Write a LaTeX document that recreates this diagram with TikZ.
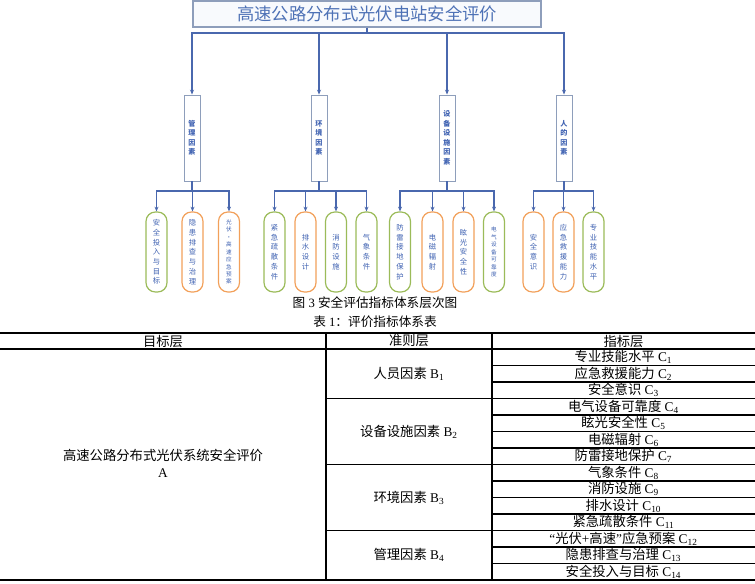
\documentclass[tikz,border=0pt]{standalone}
\usepackage{fontspec}
\setmainfont{Liberation Serif}
\newfontfamily\cjk{Noto Sans CJK SC}
\usetikzlibrary{arrows.meta}
\definecolor{lineblue}{HTML}{4A68AE}
\definecolor{txtblue}{HTML}{3F62B2}
\definecolor{titleblue}{HTML}{4E72B6}
\definecolor{ovgreen}{HTML}{9BBB59}
\definecolor{ovorange}{HTML}{F2A05A}
\definecolor{boxgray}{HTML}{8E9EBB}
\newcommand{\zh}[1]{{\cjk #1}}
\tikzset{
  titlebox/.style={draw=boxgray, line width=0.8pt, fill={rgb,255:red,248;green,250;blue,253},
    minimum width=261pt, minimum height=19.5pt, inner sep=0pt,
    text=titleblue, font={\cjk\fontsize{13}{15}\selectfont}},
  facbox/.style={draw=boxgray, line width=0.7pt, fill=white, minimum width=12pt,
    minimum height=64.5pt, inner sep=0pt, align=center, text=txtblue,
    font={\cjk\bfseries\fontsize{5.3}{7.1}\selectfont}},
  ovalbox/.style={line width=0.9pt, fill=white, rounded corners=7pt, minimum width=15.75pt,
    minimum height=60pt, inner sep=0pt, align=center, text=txtblue,
    font={\cjk\fontsize{5.5}{7.3}\selectfont}},
  smalltxt/.style={font={\cjk\fontsize{4.2}{5.6}\selectfont}},
  gov/.style={ovalbox, draw=ovgreen},
  oov/.style={ovalbox, draw=ovorange},
  conn/.style={draw=lineblue, line width=0.8pt},
  arr/.style={conn, -{Stealth[length=3.6pt, width=3pt]}},
  captext/.style={inner sep=0pt, font={\fontsize{9.5}{11}\selectfont}},
  cell/.style={inner sep=0pt, font={\fontsize{10}{12.8}\selectfont}, align=center},
  tabrule/.style={line width=1.2pt, black}
}
\begin{document}
\begin{tikzpicture}[x=0.75pt, y=-0.75pt]
\useasboundingbox (0,0) rectangle (755,584);
% title
\node[titlebox] (T) at (367,14) {高速公路分布式光伏电站安全评价};
% factor boxes
\node[facbox] (F1) at (192,138) {管\\理\\因\\素};
\node[facbox] (F2) at (319,138) {环\\境\\因\\素};
\node[facbox] (F3) at (447,138) {设\\备\\设\\施\\因\\素};
\node[facbox] (F4) at (564,138) {人\\的\\因\\素};
% top bus
\coordinate (bus) at (367,33);
\draw[conn] (T.south) -- (bus);
\foreach \f in {F1,F2,F3,F4} \draw[arr] (bus) -| (\f.north);
% ovals group 1
\node[gov] (o11) at (156.5,252) {安\\全\\投\\入\\与\\目\\标};
\node[oov] (o12) at (192.5,252) {隐\\患\\排\\查\\与\\治\\理};
\node[oov, smalltxt] (o13) at (229,252) {光\\伏\\·\\高\\速\\应\\急\\预\\案};
% group 2
\node[gov] (o21) at (274.5,252) {紧\\急\\疏\\散\\条\\件};
\node[oov] (o22) at (305.5,252) {排\\水\\设\\计};
\node[gov] (o23) at (336,252) {消\\防\\设\\施};
\node[gov] (o24) at (366.5,252) {气\\象\\条\\件};
% group 3
\node[gov] (o31) at (400,252) {防\\雷\\接\\地\\保\\护};
\node[oov] (o32) at (432.5,252) {电\\磁\\辐\\射};
\node[oov] (o33) at (463.5,252) {眩\\光\\安\\全\\性};
\node[gov, smalltxt] (o34) at (494,252) {电\\气\\设\\备\\可\\靠\\度};
% group 4
\node[oov] (o41) at (533.5,252) {安\\全\\意\\识};
\node[oov] (o42) at (563.5,252) {应\\急\\救\\援\\能\\力};
\node[gov] (o43) at (593.5,252) {专\\业\\技\\能\\水\\平};
% lower buses
\coordinate (b1) at (192,191);
\coordinate (b2) at (319,191);
\coordinate (b3) at (447,191);
\coordinate (b4) at (564,191);
\draw[conn] (F1.south) -- (b1);
\draw[conn] (F2.south) -- (b2);
\draw[conn] (F3.south) -- (b3);
\draw[conn] (F4.south) -- (b4);
\foreach \o in {o11,o12,o13} \draw[arr] (b1) -| (\o.north);
\foreach \o in {o21,o22,o23,o24} \draw[arr] (b2) -| (\o.north);
\foreach \o in {o31,o32,o33,o34} \draw[arr] (b3) -| (\o.north);
\foreach \o in {o41,o42,o43} \draw[arr] (b4) -| (\o.north);
% captions
\node[captext] (cap1) at (375,303) {\zh{图} 3 \zh{安全评估指标体系层次图}};
\node[captext] (cap2) at (375,322) {\zh{表} 1\zh{：评价指标体系表}};
% table rules
\draw[tabrule] (0,333) -- (755,333);
\draw[tabrule] (0,349) -- (755,349);
\draw[tabrule] (0,580) -- (755,580);
\draw[tabrule] (326,333) -- (326,580);
\draw[tabrule] (492,333) -- (492,580);
\foreach \y in {398.5,464.5,530.5} \draw[tabrule] (326,\y) -- (755,\y);
\foreach \y in {365.5,382,415,431.5,448,481,497.5,514,547,563.5} \draw[tabrule] (492,\y) -- (755,\y);
% header
\node[cell] (h1) at (163,341) {\zh{目标层}};
\node[cell] (h2) at (409,341) {\zh{准则层}};
\node[cell] (h3) at (623.5,341) {\zh{指标层}};
% target
\node[cell] (A) at (163,463.5) {\zh{高速公路分布式光伏系统安全评价}\\A};
% criteria
\node[cell] (B1) at (409,374) {\zh{人员因素} B\textsubscript{1}};
\node[cell] (B2) at (409,431.5) {\zh{设备设施因素} B\textsubscript{2}};
\node[cell] (B3) at (409,497.5) {\zh{环境因素} B\textsubscript{3}};
\node[cell] (B4) at (409,555) {\zh{管理因素} B\textsubscript{4}};
% indicators
\node[cell] (C1) at (623.5,357.25) {\zh{专业技能水平} C\textsubscript{1}};
\node[cell] (C2) at (623.5,373.75) {\zh{应急救援能力} C\textsubscript{2}};
\node[cell] (C3) at (623.5,390.25) {\zh{安全意识} C\textsubscript{3}};
\node[cell] (C4) at (623.5,406.75) {\zh{电气设备可靠度} C\textsubscript{4}};
\node[cell] (C5) at (623.5,423.25) {\zh{眩光安全性} C\textsubscript{5}};
\node[cell] (C6) at (623.5,439.75) {\zh{电磁辐射} C\textsubscript{6}};
\node[cell] (C7) at (623.5,456.25) {\zh{防雷接地保护} C\textsubscript{7}};
\node[cell] (C8) at (623.5,472.75) {\zh{气象条件} C\textsubscript{8}};
\node[cell] (C9) at (623.5,489.25) {\zh{消防设施} C\textsubscript{9}};
\node[cell] (C10) at (623.5,505.75) {\zh{排水设计} C\textsubscript{10}};
\node[cell] (C11) at (623.5,522.25) {\zh{紧急疏散条件} C\textsubscript{11}};
\node[cell] (C12) at (623.5,538.75) {“\zh{光伏}+\zh{高速}”\zh{应急预案} C\textsubscript{12}};
\node[cell] (C13) at (623.5,555.25) {\zh{隐患排查与治理} C\textsubscript{13}};
\node[cell] (C14) at (623.5,571.75) {\zh{安全投入与目标} C\textsubscript{14}};
\end{tikzpicture}
\end{document}
